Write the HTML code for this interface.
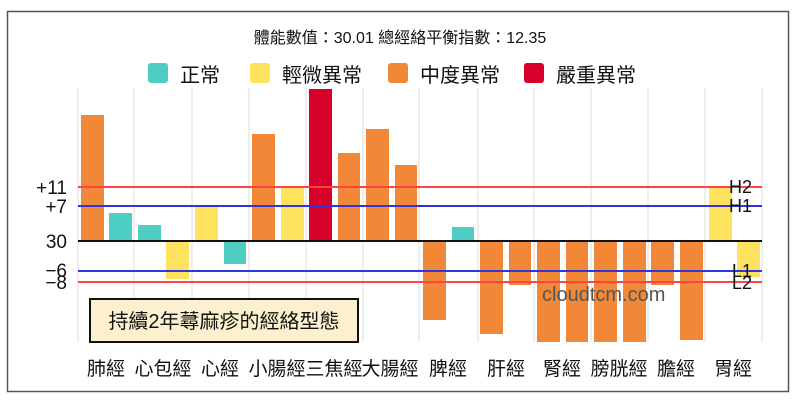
<!DOCTYPE html>
<html><head><meta charset="utf-8"><style>
html,body{margin:0;padding:0;background:#fff;}
body{width:800px;height:404px;overflow:hidden;position:relative;font-family:"Liberation Sans","Noto Sans CJK TC",sans-serif;}
</style></head><body>
<svg width="800" height="404" xmlns="http://www.w3.org/2000/svg" style="position:absolute;left:0;top:0;font-family:'Liberation Sans','Noto Sans CJK TC',sans-serif">
<rect x="7.5" y="11.5" width="781" height="380" fill="#fff" stroke="#555" stroke-width="1.5"/>
<text x="400" y="43" font-size="16" text-anchor="middle" fill="#111">體能數值：30.01 總經絡平衡指數：12.35</text>
<g font-size="20" fill="#111">
<rect x="148" y="63" width="20" height="20" rx="3" fill="#4ecdc4"/><text x="180" y="82">正常</text>
<rect x="250" y="63" width="20" height="20" rx="3" fill="#fde25e"/><text x="282" y="82">輕微異常</text>
<rect x="388" y="63" width="20" height="20" rx="3" fill="#f08838"/><text x="420" y="82">中度異常</text>
<rect x="524" y="63" width="20" height="20" rx="3" fill="#d6002a"/><text x="556" y="82">嚴重異常</text>
</g>
<g stroke="#ddd" stroke-width="1">
<line x1="78" y1="88" x2="78" y2="342"/><line x1="134" y1="88" x2="134" y2="342"/><line x1="192" y1="88" x2="192" y2="342"/><line x1="249" y1="88" x2="249" y2="342"/><line x1="306" y1="88" x2="306" y2="342"/><line x1="363" y1="88" x2="363" y2="342"/><line x1="419" y1="88" x2="419" y2="342"/><line x1="478" y1="88" x2="478" y2="342"/><line x1="534" y1="88" x2="534" y2="342"/><line x1="591" y1="88" x2="591" y2="342"/><line x1="648" y1="88" x2="648" y2="342"/><line x1="705" y1="88" x2="705" y2="342"/><line x1="762" y1="88" x2="762" y2="342"/>
</g>
<g>
<rect x="81" y="115" width="23" height="126" fill="#f08838"/>
<rect x="109" y="213" width="23" height="28" fill="#4ecdc4"/>
<rect x="138" y="225" width="23" height="16" fill="#4ecdc4"/>
<rect x="166" y="241" width="23" height="38" fill="#fde25e"/>
<rect x="195" y="207" width="23" height="34" fill="#fde25e"/>
<rect x="224" y="241" width="22" height="23" fill="#4ecdc4"/>
<rect x="252" y="134" width="23" height="107" fill="#f08838"/>
<rect x="281" y="188" width="23" height="53" fill="#fde25e"/>
<rect x="309" y="89" width="23" height="152" fill="#d6002a"/>
<rect x="338" y="153" width="22" height="88" fill="#f08838"/>
<rect x="366" y="129" width="23" height="112" fill="#f08838"/>
<rect x="395" y="165" width="22" height="76" fill="#f08838"/>
<rect x="423" y="241" width="23" height="79" fill="#f08838"/>
<rect x="452" y="227" width="22" height="14" fill="#4ecdc4"/>
<rect x="480" y="241" width="23" height="93" fill="#f08838"/>
<rect x="509" y="241" width="22" height="44" fill="#f08838"/>
<rect x="537" y="241" width="23" height="101" fill="#f08838"/>
<rect x="566" y="241" width="22" height="101" fill="#f08838"/>
<rect x="594" y="241" width="23" height="101" fill="#f08838"/>
<rect x="623" y="241" width="23" height="101" fill="#f08838"/>
<rect x="651" y="241" width="23" height="44" fill="#f08838"/>
<rect x="680" y="241" width="23" height="99" fill="#f08838"/>
<rect x="709" y="188" width="23" height="53" fill="#fde25e"/>
<rect x="737" y="241" width="23" height="36" fill="#fde25e"/>
</g>
<line x1="78" y1="187" x2="762" y2="187" stroke="#f44" stroke-width="2"/>
<line x1="78" y1="282" x2="762" y2="282" stroke="#f44" stroke-width="2"/>
<line x1="78" y1="206" x2="762" y2="206" stroke="#33d" stroke-width="2"/>
<line x1="78" y1="271" x2="762" y2="271" stroke="#33d" stroke-width="2"/>
<line x1="78" y1="241" x2="762" y2="241" stroke="#111" stroke-width="2"/>
<g font-size="19" fill="#111" text-anchor="end">
<text x="67" y="194">+11</text><text x="67" y="213">+7</text><text x="67" y="248">30</text><text x="67" y="277">−6</text><text x="67" y="289">−8</text>
</g>
<g font-size="18" fill="#111" text-anchor="end">
<text x="752" y="193">H2</text><text x="752" y="212">H1</text><text x="752" y="277">L1</text><text x="752" y="289">L2</text>
</g>
<text x="542" y="301" font-size="20" fill="#555">cloudtcm.com</text>
<rect x="90" y="299" width="268" height="43" fill="#fdf0cf" stroke="#111" stroke-width="2"/>
<text x="224" y="328" font-size="20" fill="#111" text-anchor="middle">持續2年蕁麻疹的經絡型態</text>
<g font-size="19" fill="#111" text-anchor="middle">
<text x="106" y="375">肺經</text><text x="163" y="375">心包經</text><text x="220" y="375">心經</text><text x="277" y="375">小腸經</text><text x="334" y="375">三焦經</text><text x="390" y="375">大腸經</text><text x="448" y="375">脾經</text><text x="506" y="375">肝經</text><text x="562" y="375">腎經</text><text x="619" y="375">膀胱經</text><text x="676" y="375">膽經</text><text x="733" y="375">胃經</text>
</g>
</svg>
</body></html>
